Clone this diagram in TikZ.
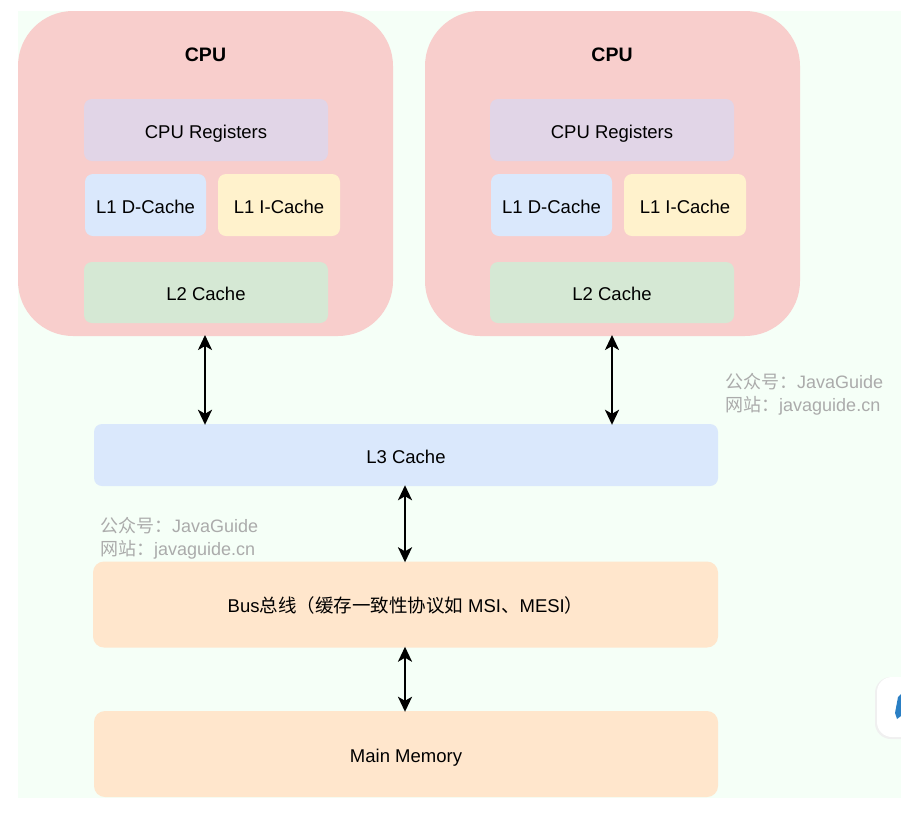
\documentclass[tikz,border=0pt]{standalone}
\usepackage{fontspec}
\setmainfont{Liberation Sans}
\newfontfamily\cjk{Noto Sans CJK SC}
\usetikzlibrary{arrows.meta}
\definecolor{bgc}{HTML}{F5FFF7}
\definecolor{cpuc}{HTML}{F8CECC}
\definecolor{regc}{HTML}{E1D5E7}
\definecolor{l1dc}{HTML}{DAE8FC}
\definecolor{l1ic}{HTML}{FFF2CC}
\definecolor{l2c}{HTML}{D5E8D4}
\definecolor{busc}{HTML}{FFE6CC}
\definecolor{wmc}{HTML}{ABABAB}
\definecolor{iconblue}{HTML}{2A7FC4}
\tikzset{
  box/.style={rounded corners=8pt, inner sep=0pt, font=\fontsize{18.5}{22}\selectfont, text=black, text height=16pt, text depth=0pt},
  bigbox/.style={rounded corners=11pt, inner sep=0pt, font=\fontsize{18.5}{22}\selectfont, text=black, text height=16pt, text depth=0pt},
  cpulabel/.style={font=\bfseries\fontsize{19.5}{22}\selectfont, inner sep=0pt, text height=16pt, text depth=0pt},
  dbl/.style={{Stealth[length=15pt,width=14pt,inset=4pt]}-{Stealth[length=15pt,width=14pt,inset=4pt]}, line width=2.4pt, black, shorten <=-1pt, shorten >=-1pt},
  wm/.style={text=wmc, font=\fontsize{18}{23}\selectfont, inner sep=0pt, anchor=base west}
}
\begin{document}
\begin{tikzpicture}[x=1pt,y=-1pt]
\useasboundingbox (0,0) rectangle (901,812);
\fill[white] (0,0) rectangle (901,812);
\fill[bgc] (18,11) rectangle (901,798);
% CPU containers
\fill[cpuc, rounded corners=55pt] (18,11) rectangle (393,336);
\fill[cpuc, rounded corners=55pt] (425,11) rectangle (800,336);
\node[cpulabel] (cpu1) at (205.5,53) {CPU};
\node[cpulabel] (cpu2) at (612,53) {CPU};
% CPU 1 contents
\node[box, fill=regc, minimum width=244pt, minimum height=62pt] (reg1) at (206,130) {CPU Registers};
\node[box, fill=l1dc, minimum width=121pt, minimum height=62pt] (l1d1) at (145.5,205) {L1 D-Cache};
\node[box, fill=l1ic, minimum width=122pt, minimum height=62pt] (l1i1) at (279,205) {L1 I-Cache};
\node[box, fill=l2c, minimum width=244pt, minimum height=61pt] (l2a) at (206,292.5) {L2 Cache};
% CPU 2 contents
\node[box, fill=regc, minimum width=244pt, minimum height=62pt] (reg2) at (612,130) {CPU Registers};
\node[box, fill=l1dc, minimum width=121pt, minimum height=62pt] (l1d2) at (551.5,205) {L1 D-Cache};
\node[box, fill=l1ic, minimum width=122pt, minimum height=62pt] (l1i2) at (685,205) {L1 I-Cache};
\node[box, fill=l2c, minimum width=244pt, minimum height=61pt] (l2b) at (612,292.5) {L2 Cache};
% shared levels
\node[box, fill=l1dc, minimum width=624pt, minimum height=62pt] (l3) at (406,455) {L3 Cache};
\node[bigbox, fill=busc, minimum width=625pt, minimum height=86pt] (bus) at (405.5,604.5) {Bus{\cjk 总线（缓存一致性协议如} MSI{\cjk 、}MESI{\cjk ）}};
\node[bigbox, fill=busc, minimum width=624pt, minimum height=86pt] (mem) at (406,754) {Main Memory};
% connector endpoints
\coordinate (c1top) at (205,336);
\coordinate (c2top) at (612,336);
\coordinate (mid) at (405,455);
\draw[dbl] (c1top) -- (c1top |- l3.north);
\draw[dbl] (c2top) -- (c2top |- l3.north);
\draw[dbl] (mid |- l3.south) -- (mid |- bus.north);
\draw[dbl] (mid |- bus.south) -- (mid |- mem.north);
% watermarks
\node[wm] (wm1a) at (725,388) {{\cjk 公众号：}JavaGuide};
\node[wm] (wm1b) at (725,411) {{\cjk 网站：}javaguide.cn};
\node[wm] (wm2a) at (100,532.5) {{\cjk 公众号：}JavaGuide};
\node[wm] (wm2b) at (100,555) {{\cjk 网站：}javaguide.cn};
% side icon
\begin{scope}
\clip (0,0) rectangle (901,812);
\fill[black!6, rounded corners=16pt] (875,677) rectangle (930,739);
\fill[white, rounded corners=15pt] (877,677) rectangle (930,737);
\fill[iconblue] (898,697) -- (901,694) -- (901,716) -- (897,719) -- (895,713) -- cycle;
\end{scope}
\end{tikzpicture}
\end{document}
